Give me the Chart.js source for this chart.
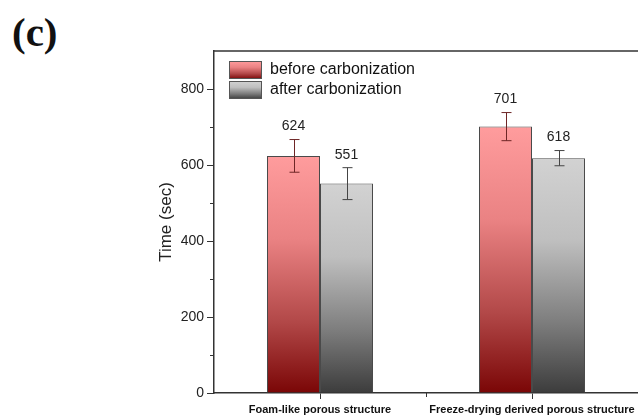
<!DOCTYPE html>
<html>
<head>
<meta charset="utf-8">
<script src="https://cdn.jsdelivr.net/npm/chart.js@4/dist/chart.umd.min.js"></script>
<style>
  html, body { margin: 0; padding: 0; background: #fff; overflow: hidden; }
  #wrap { position: relative; width: 638px; height: 416px; }
  #panel-label {
    position: absolute; left: 12px; top: 12px;
    font-family: "Liberation Serif", "Times New Roman", serif;
    font-weight: bold; font-size: 41px; line-height: 1; color: #111;
  }
  canvas { position: absolute; left: 0; top: 0; }
</style>
</head>
<body>
<div id="wrap">
  <div id="panel-label">(c)</div>
  <canvas id="chart" width="638" height="416"></canvas>
</div>
<script>
// data
const categories = ['Foam-like porous structure', 'Freeze-drying derived porous structure'];
const seriesLabels = ['before carbonization', 'after carbonization'];
const beforeValues = [624, 701];
const afterValues = [551, 618];
const beforeErrors = [43, 37];
const afterErrors = [42, 20];
const yMajorTicks = [0, 200, 400, 600, 800];
const yMinorTicks = [100, 300, 500, 700];

const RED_STOPS = [[0, '#ff9c9d'], [0.35, '#ea8283'], [0.7, '#b24848'], [1, '#7a0606']];
const GRAY_STOPS = [[0, '#d2d2d2'], [0.35, '#bfbfbf'], [0.7, '#7d7d7d'], [1, '#3c3c3c']];

function makeGradient(ctx, y0, y1, stops) {
  const g = ctx.createLinearGradient(0, y0, 0, y1);
  stops.forEach(s => g.addColorStop(s[0], s[1]));
  return g;
}

// gradient runs from the top of each bar down to the base
function barFill(stops) {
  return (context) => {
    const chart = context.chart;
    if (!chart.chartArea || context.raw == null) return stops[0][1];
    const y = chart.scales.y;
    return makeGradient(chart.ctx, y.getPixelForValue(context.raw), y.getPixelForValue(0), stops);
  };
}

const errorSets = [beforeErrors, afterErrors];
const errorColors = ['#6e2626', '#444'];

const decorPlugin = {
  id: 'decor',
  afterDatasetsDraw(chart) {
    const { ctx, chartArea, scales } = chart;
    const y = scales.y, x = scales.x;
    ctx.save();

    // top frame line
    ctx.strokeStyle = '#333';
    ctx.lineWidth = 1.5;
    ctx.beginPath();
    ctx.moveTo(chartArea.left, chartArea.top);
    ctx.lineTo(chartArea.right + 2, chartArea.top);
    ctx.stroke();

    // minor ticks
    ctx.lineWidth = 1;
    ctx.beginPath();
    yMinorTicks.forEach(v => {
      const py = Math.round(y.getPixelForValue(v)) + 0.5;
      ctx.moveTo(chartArea.left - 4, py);
      ctx.lineTo(chartArea.left, py);
    });
    for (let i = 0; i < categories.length - 1; i++) {
      const px = Math.round((x.getPixelForValue(i) + x.getPixelForValue(i + 1)) / 2) + 0.5;
      ctx.moveTo(px, chartArea.bottom);
      ctx.lineTo(px, chartArea.bottom + 4);
    }
    ctx.stroke();

    // error bars and value labels
    chart.data.datasets.forEach((ds, di) => {
      const meta = chart.getDatasetMeta(di);
      meta.data.forEach((bar, i) => {
        const v = ds.data[i];
        const e = errorSets[di][i];
        const cx = Math.round(bar.x) + 0.5;
        const yt = y.getPixelForValue(v + e);
        const yb = y.getPixelForValue(v - e);
        ctx.strokeStyle = errorColors[di];
        ctx.lineWidth = 1;
        ctx.beginPath();
        ctx.moveTo(cx, yt); ctx.lineTo(cx, yb);
        ctx.moveTo(cx - 5, yt); ctx.lineTo(cx + 5, yt);
        ctx.moveTo(cx - 5, yb); ctx.lineTo(cx + 5, yb);
        ctx.stroke();

        ctx.fillStyle = '#222';
        ctx.font = '14px "Liberation Sans", Arial, sans-serif';
        ctx.textAlign = 'center';
        ctx.textBaseline = 'middle';
        ctx.fillText(String(v), bar.x, yt - 13);
      });
    });

    // legend in the upper left of the plot
    const stopsList = [RED_STOPS, GRAY_STOPS];
    const lx = chartArea.left + 15, ly0 = chartArea.top + 10;
    seriesLabels.forEach((label, i) => {
      const by = ly0 + i * 20;
      ctx.fillStyle = makeGradient(ctx, by, by + 18, stopsList[i]);
      ctx.fillRect(lx, by, 33, 18);
      ctx.strokeStyle = '#555';
      ctx.lineWidth = 1;
      ctx.strokeRect(lx + 0.5, by + 0.5, 32, 17);
      ctx.fillStyle = '#111';
      ctx.font = '16px "Liberation Sans", Arial, sans-serif';
      ctx.textAlign = 'left';
      ctx.textBaseline = 'middle';
      ctx.fillText(label, lx + 41, by + 9);
    });

    ctx.restore();
  }
};

new Chart(document.getElementById('chart'), {
  type: 'bar',
  data: {
    labels: categories,
    datasets: [
      {
        label: seriesLabels[0],
        data: beforeValues,
        backgroundColor: barFill(RED_STOPS),
        borderColor: '#4a4a4a',
        borderWidth: 1,
        categoryPercentage: 0.5,
        barPercentage: 1
      },
      {
        label: seriesLabels[1],
        data: afterValues,
        backgroundColor: barFill(GRAY_STOPS),
        borderColor: '#4a4a4a',
        borderWidth: 1,
        categoryPercentage: 0.5,
        barPercentage: 1
      }
    ]
  },
  options: {
    responsive: false,
    animation: false,
    devicePixelRatio: 1,
    layout: { padding: { top: 51, left: 150, right: 0, bottom: 0 } },
    plugins: {
      legend: { display: false },
      tooltip: { enabled: false }
    },
    scales: {
      x: {
        grid: { display: true, drawOnChartArea: false, offset: false, color: '#333', tickLength: 6 },
        border: { display: true, color: '#333', width: 1.5 },
        ticks: {
          color: '#111',
          font: { family: '"Liberation Sans", Arial, sans-serif', size: 11, weight: 'bold' },
          padding: 4,
          maxRotation: 0,
          minRotation: 0,
          autoSkip: false
        },
        afterFit: (scale) => {
          scale.height = 23;
          scale.paddingLeft = 0;
          scale.paddingRight = 0;
        }
      },
      y: {
        min: 0,
        max: 900,
        ticks: {
          stepSize: 100,
          color: '#222',
          padding: 3,
          font: { family: '"Liberation Sans", Arial, sans-serif', size: 14 }
        },
        afterBuildTicks: (scale) => {
          scale.ticks = yMajorTicks.map(v => ({ value: v }));
        },
        grid: { display: true, drawOnChartArea: false, color: '#333', tickLength: 7 },
        border: { display: true, color: '#333', width: 1.5 },
        title: {
          display: true,
          text: 'Time (sec)',
          color: '#222',
          padding: { top: 6, bottom: 0 },
          font: { family: '"Liberation Sans", Arial, sans-serif', size: 17 }
        },
        afterFit: (scale) => { scale.width = 64; }
      }
    }
  },
  plugins: [decorPlugin]
});
</script>
</body>
</html>
